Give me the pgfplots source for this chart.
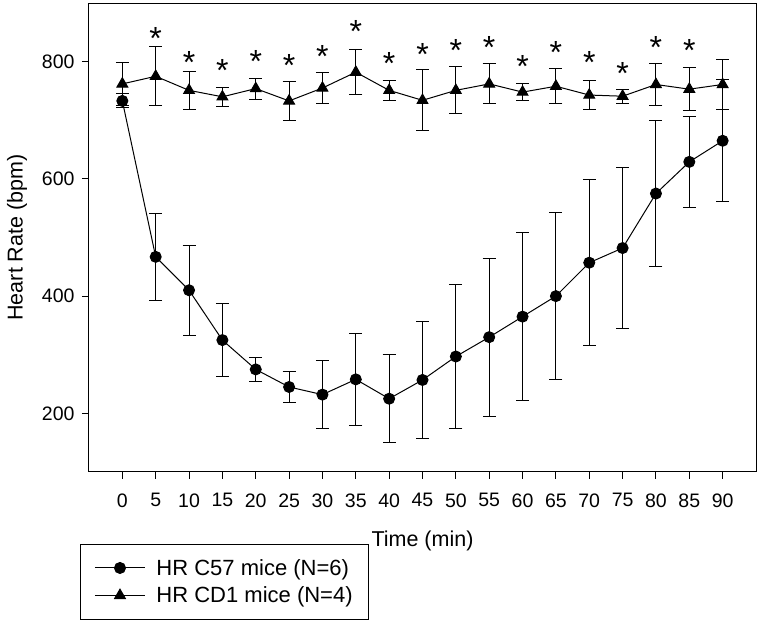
\documentclass[border=0pt]{standalone}
\usepackage{fontspec}
\setmainfont{Liberation Sans}
\usepackage{pgfplots}
\pgfplotsset{compat=1.18}
\begin{document}
\begin{tikzpicture}
\begin{axis}[
  name=ax,
  scale only axis,
  width=667pt, height=469pt,
  xmin=-5, xmax=95, ymin=100, ymax=900,
  xtick={0,5,...,90}, ytick={200,400,600,800},
  tick align=outside, xtick pos=bottom, ytick pos=left,
  major tick length=7pt,
  axis line style={line width=1pt},
  tick style={line width=1pt, black},
  /pgf/number format/assume math mode=true,
  tick label style={font=\fontsize{19.5}{22}\selectfont},
  xticklabel style={yshift=-11pt},
  yticklabel style={xshift=-4pt},
  label style={font=\fontsize{21.5}{24}\selectfont},
  xlabel={Time (min)},
  ylabel={Heart Rate (bpm)},
  xlabel style={yshift=-17pt},
  ylabel style={yshift=8pt},
  legend style={at={(axis description cs:-0.0135,-0.153)}, anchor=north west,
    draw=black, line width=1pt, font=\fontsize{22}{25}\selectfont,
    inner xsep=14pt, inner ysep=13pt, row sep=6pt, column sep=9pt, cells={anchor=west}},
  legend image code/.code={\draw[mark repeat=2,mark phase=2,#1] plot coordinates {(0pt,0pt) (25pt,0pt) (50pt,0pt)};},
  error bars/y dir=both, error bars/y explicit,
  error bars/error bar style={line width=1pt, black},
  error bars/error mark options={rotate=90, mark size=6.5pt, line width=1pt, black},
]
\addplot[black, line width=1pt, mark=*, mark size=5.5pt, mark options={solid, fill=black}]
coordinates {
(0,733) +- (0,12)
(5,467) +- (0,74)
(10,410) +- (0,77)
(15,325) +- (0,62)
(20,275) +- (0,20)
(25,245) +- (0,27)
(30,232) +- (0,58)
(35,258) +- (0,79)
(40,225) +- (0,75)
(45,257) +- (0,100)
(50,297) +- (0,122)
(55,330) +- (0,135)
(60,365) +- (0,143)
(65,400) +- (0,142)
(70,457) +- (0,142)
(75,482) +- (0,137)
(80,575) +- (0,125)
(85,629) +- (0,77)
(90,665) +- (0,104)
};
\addlegendentry{HR C57 mice (N=6)}
\addplot[black, line width=1pt, mark=triangle*, mark size=6.2pt, mark options={solid, fill=black}]
coordinates {
(0,762) +- (0,37)
(5,775) +- (0,50)
(10,751) +- (0,32)
(15,740) +- (0,16)
(20,754) +- (0,18)
(25,733) +- (0,33)
(30,755) +- (0,27)
(35,782) +- (0,38)
(40,751) +- (0,17)
(45,734) +- (0,52)
(50,751) +- (0,40)
(55,762) +- (0,34)
(60,748) +- (0,14)
(65,758) +- (0,30)
(70,743) +- (0,24)
(75,741) +- (0,12)
(80,761) +- (0,36)
(85,753) +- (0,37)
(90,761) +- (0,42)
};
\addlegendentry{HR CD1 mice (N=4)}
\addplot[forget plot, only marks, mark=none, error bars/y dir=none,
  nodes near coords={*},
  nodes near coords style={anchor=center, inner sep=0pt, yshift=-7pt, font=\fontsize{32}{34}\selectfont}]
coordinates {
(5,852) (10,811) (15,797) (20,813) (25,806) (30,821) (35,863) (40,808) (45,824)
(50,831) (55,836) (60,804) (65,828) (70,811) (75,792) (80,836) (85,831)
};
\end{axis}
\pgfresetboundingbox
\path[use as bounding box] ([shift={(-89pt,-154pt)}]ax.south west) rectangle ([shift={(4pt,3pt)}]ax.north east);
\end{tikzpicture}
\end{document}
